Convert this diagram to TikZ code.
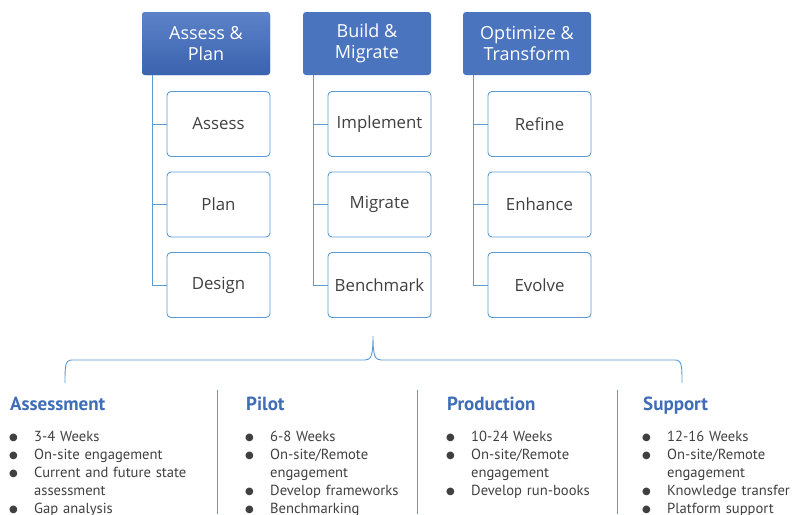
\documentclass[tikz,border=0pt]{standalone}
\usepackage{fontspec}
\setmainfont{PT Sans}
\newfontfamily\boxfont{Open Sans}
\newfontfamily\symfont{DejaVu Sans}
\usetikzlibrary{trees}
\definecolor{phaseblue}{HTML}{4A74BD}
\definecolor{phasetop}{HTML}{5C82C8}
\definecolor{phasebot}{HTML}{3A63AE}
\definecolor{linkblue}{HTML}{5B9BD5}
\definecolor{headblue}{HTML}{3F6DB8}
\definecolor{bodygray}{HTML}{404040}
\newcommand{\bul}[1]{\par\hangindent=24pt\hangafter=1\noindent\makebox[24pt][l]{\hspace{-1pt}\raisebox{0.8pt}{\symfont\fontsize{10}{10}\selectfont ●}}#1}
\tikzset{
  phasebox/.style={rounded corners=3pt, fill=phaseblue, text=white, minimum width=128pt, minimum height=63pt, align=center, font=\boxfont\fontsize{18}{21.5}\selectfont},
  taskbox/.style={draw=linkblue, line width=0.9pt, rounded corners=4pt, fill=white, text=bodygray, minimum width=103pt, minimum height=65pt, font=\boxfont\fontsize{16.8}{20}\selectfont},
  stagehead/.style={anchor=base west, inner sep=0pt, text=headblue, font=\bfseries\fontsize{19}{22}\selectfont},
  stagelist/.style={anchor=north west, inner sep=0pt, text width=200pt, align=left, text=bodygray, font=\fontsize{14.6}{18}\selectfont},
  divider/.style={draw=linkblue, line width=0.9pt}
}
\begin{document}
\begin{tikzpicture}[x=1pt, y=-1pt, grow via three points={one child at (12.5,80.5) and two children at (12.5,80.5) and (12.5,161)}, edge from parent path={([xshift=11pt]\tikzparentnode.south west) |- (\tikzchildnode.west)}, edge from parent/.style={draw=linkblue, line width=0.9pt}]
\useasboundingbox (0,0) rectangle (794,514);
\node[phasebox, top color=phasetop, bottom color=phasebot] (assessplan) at (206,43.5) {Assess \&\\Plan}
    child { node[taskbox] (assess) {Assess} }
    child { node[taskbox] (plan) {Plan} }
    child { node[taskbox] (design) {Design} }
;
\node[phasebox] (buildmigrate) at (367,43.5) {Build \&\\Migrate}
    child { node[taskbox] (implement) {Implement} }
    child { node[taskbox] (migrate) {Migrate} }
    child { node[taskbox] (benchmark) {Benchmark} }
;
\node[phasebox] (optimize) at (527,43.5) {Optimize \&\\Transform}
    child { node[taskbox] (refine) {Refine} }
    child { node[taskbox] (enhance) {Enhance} }
    child { node[taskbox] (evolve) {Evolve} }
;
% brace over the stages
\draw[linkblue, line width=0.9pt] (65,383) .. controls (65,366) and (65,360) .. (72,360) -- (365,360) .. controls (371,360) and (373,356) .. (373,336) .. controls (373,356) and (375,360) .. (381,360) -- (675,360) .. controls (682,360) and (682,366) .. (682,383);
\foreach \sx in {217,417,617} \draw[divider] (\sx,390) -- (\sx,514);
% stages
\node[stagehead] (assessment) at (10,410.6) {Assessment};
\node[stagelist] (assessmentlist) at (10,423) {\bul{3-4 Weeks}\bul{On-site engagement}\bul{Current and future state\newline assessment}\bul{Gap analysis}};
\node[stagehead] (pilot) at (246,410.6) {Pilot};
\node[stagelist] (pilotlist) at (246,423) {\bul{6-8 Weeks}\bul{On-site/Remote\newline engagement}\bul{Develop frameworks}\bul{Benchmarking}};
\node[stagehead] (production) at (447,410.6) {Production};
\node[stagelist] (productionlist) at (447,423) {\bul{10-24 Weeks}\bul{On-site/Remote\newline engagement}\bul{Develop run-books}};
\node[stagehead] (support) at (643,410.6) {Support};
\node[stagelist] (supportlist) at (643,423) {\bul{12-16 Weeks}\bul{On-site/Remote\newline engagement}\bul{Knowledge transfer}\bul{Platform support}};
\end{tikzpicture}
\end{document}
